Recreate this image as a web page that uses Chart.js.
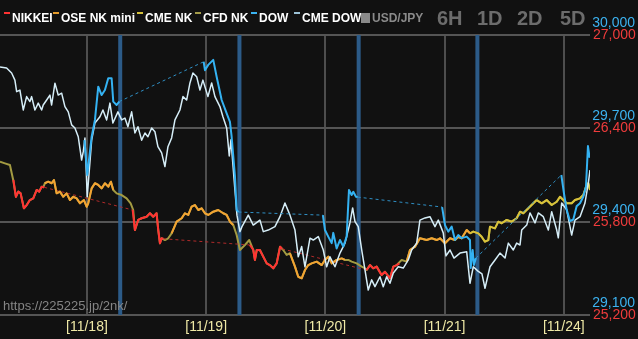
<!DOCTYPE html>
<html><head><meta charset="utf-8">
<script src="https://cdn.jsdelivr.net/npm/chart.js@4.4.1/dist/chart.umd.min.js"></script>
<style>html,body{margin:0;padding:0;background:#111;overflow:hidden}canvas{display:block}</style>
</head><body>
<canvas id="c" width="638" height="339"></canvas>
<script>
// time axis: hours since 11/18 00:00 (trading-day axis, weekend removed)
const timeMin = -17.5;
const timeMax = 101.27;
const dayTicks = [0, 24, 48, 72, 96];
const dayLabels = ['[11/18]', '[11/19]', '[11/20]', '[11/21]', '[11/24]'];
const nyCloseMarks = [6.7, 30.7, 54.7, 78.6];

const dowMin = 29100, dowMax = 30000, dowStep = 300;
const nkMin = 25200, nkMax = 27000, nkStep = 600;

const legendNames = ['NIKKEI', 'OSE NK mini', 'CME NK', 'CFD NK', 'DOW', 'CME DOW'];
const legendColors = ['#ff3333', '#e39a2c', '#d4c03a', '#a49c4a', '#3ab2f0', '#9cc2d6'];
const usdJpyLabel = 'USD/JPY';
const rangeButtons = ['6H', '1D', '2D', '5D'];
const watermark = 'https://225225.jp/2nk/';

// [hour, value]; null = gap
const nikkei = [
  [-14.8,26068],[-14.3,25960],[-13.8,25993],[-13.35,25982],[-12.7,25886],[-12.1,25907],[-11.5,25939],[-10.8,25950],[-10.1,26004],[-9.6,25993],[-9.1,26025],[-8.6,26021],
  null,
  [9.2,25875],[9.66,25746],[10.3,25811],[11.0,25822],[12.0,25832],[12.7,25854],[13.35,25832],[14.0,25854],[14.36,25746],[14.7,25661],[15.04,25693],[15.4,25690],
  null,
  [32.8,25650],[33.5,25618],[33.8,25554],[34.2,25618],[34.8,25618],[35.5,25575],[36.2,25532],[36.8,25521],[37.5,25500],[38.2,25532],[38.9,25639],[39.3,25625],
  null,
  [56.3,25489],[57.0,25521],[57.6,25500],[58.3,25511],[59.3,25457],[60.0,25478],[61.0,25436],[61.7,25511],[62.35,25521],[62.9,25532]
];

const oseMini = [
  [-8.5,26047],[-7.8,26057],[-7.1,26047],[-6.64,26068],[-6.1,25982],[-5.44,25993],[-4.77,25960],[-4.09,25982],[-3.42,25939],[-2.76,25960],[-2.07,25950],[-1.41,25918],[-0.6,25939],[-0.06,25896],[0.26,25918],[0.95,26014],[1.61,26047],[2.28,26036],[2.96,26014],[3.62,26047],[4.29,26025],[4.83,26057],[5.3,26004],
  null,
  [17.05,25725],[18.06,25800],[19.07,25822],[19.73,25854],[20.4,25843],[21.08,25896],[21.74,25907],[22.41,25875],[23.09,25886],[23.76,25854],[24.42,25843],[25.43,25864],[26.43,25875],[27.44,25854],[28.13,25843],[28.79,25800],[29.46,25779],
  null,
  [40.87,25597],[41.88,25511],[42.54,25446],[43.23,25436],[43.89,25489],[44.56,25521],[45.24,25532],[46.25,25543],[47.26,25521],[47.92,25554],[48.58,25575],[49.27,25532],[50.27,25554],[51.28,25564],[51.94,25554],
  null,
  [64.37,25543],[65.03,25618],[66.04,25639],[67.04,25693],[68.39,25682],[69.4,25693],[70.41,25682],[71.07,25693],[72.08,25661],[73.09,25693],[74.09,25682],[74.75,25703],[75.44,25693],[76.45,25746],[77.11,25725]
];

const cmeNk = [
  [77.11,25725],[77.77,25736],[78.78,25725],[79.46,25703],[80.13,25671],[80.8,25682],[81.14,25768],[82.14,25757],[82.81,25800],[83.49,25790],[84.5,25811],[85.5,25800],[86.51,25822],[87.18,25864],[87.84,25854],[88.85,25886],[89.86,25918],[90.54,25939],[91.55,25918],[92.55,25939],[93.56,25907],[94.57,25928],[95.23,25960],[95.9,25939],[96.58,25918],[97.58,25918],[98.25,25939],[99.26,25950],[99.92,25971],[100.6,26036],[100.93,26047],[101.27,26004]
];

const cfdNk = [
  [-17.5,26185],[-16.51,26175],[-15.5,26164],[-14.84,26068],[-14.29,25960],[-13.83,25993],[-13.35,25982],[-12.68,25886],[-12.14,25907],[-11.48,25939],[-10.81,25950],[-10.12,26004],[-9.6,25993],[-9.12,26025],[-8.8,26021],
  [-8.46,26047],[-7.79,26057],[-7.11,26047],[-6.64,26068],[-6.1,25982],[-5.44,25993],[-4.77,25960],[-4.09,25982],[-3.42,25939],[-2.76,25960],[-2.07,25950],[-1.41,25918],[-0.6,25939],[-0.06,25896],[0.26,25918],[0.95,26014],[1.61,26047],[2.28,26036],[2.96,26014],[3.62,26047],[4.29,26025],[4.83,26057],[5.3,26004],
  [5.98,25982],[6.99,25971],[7.99,25950],[8.8,25918],[9.32,25875],[9.66,25746],[10.33,25811],[11.01,25822],[12.02,25832],[12.68,25854],[13.35,25832],[14.03,25854],[14.36,25746],[14.7,25661],[15.04,25693],[15.7,25682],[16.37,25693],[17.05,25725],
  [18.06,25800],[19.07,25822],[19.73,25854],[20.4,25843],[21.08,25896],[21.74,25907],[22.41,25875],[23.09,25886],[23.76,25854],[24.42,25843],[25.43,25864],[26.43,25875],[27.44,25854],[28.13,25843],[28.79,25800],[29.46,25779],[30.14,25714],[30.8,25618],[31.81,25650],[32.68,25682],
  [33.48,25618],[33.83,25554],[34.17,25618],[34.83,25618],[35.5,25575],[36.18,25532],[36.84,25521],[37.51,25500],[38.19,25532],[38.86,25639],[39.52,25618],[40.21,25586],[40.87,25597],[41.88,25511],[42.54,25446],[43.23,25436],[43.89,25489],[44.56,25521],[45.24,25532],[46.25,25543],[47.26,25521],[47.92,25554],[48.58,25575],[49.27,25532],[50.27,25554],[51.28,25564],[51.94,25554],[52.61,25554],[53.29,25543],[54.3,25532],[55.31,25511],[55.97,25500],
  [56.31,25489],[56.98,25521],[57.64,25500],[58.33,25511],[59.33,25457],[60.0,25478],[61.0,25436],[61.67,25511],[62.35,25521],[62.67,25532],[63.36,25554],[64.37,25543],[65.03,25618],[66.04,25639],[67.04,25693],[68.39,25682],[69.4,25693],[70.41,25682],[71.07,25693],[72.08,25661],[73.09,25693],[74.09,25682],[74.75,25703],[75.44,25693],[76.45,25746],[77.11,25725],
  [77.77,25736],[78.78,25725],[79.46,25703],[80.13,25671],[80.8,25682],[81.14,25768],[82.14,25757],[82.81,25800],[83.49,25790],[84.5,25811],[85.5,25800],[86.51,25822],[87.18,25864],[87.84,25854],[88.85,25886],[89.86,25918],[90.54,25939],[91.55,25918],[92.55,25939],[93.56,25907],[94.57,25928],[95.23,25960],[95.9,25939],[96.58,25918],[97.58,25918],[98.25,25939],[99.26,25950],[99.92,25971],[100.6,26036],[100.93,26047],[101.27,26004]
];

const dow = [
  [-0.5,29662],[0.06,29550],[0.95,29673],[1.61,29727],[2.28,29834],[2.96,29807],[3.62,29823],[4.29,29861],[4.97,29861],[5.3,29786],[5.98,29775],[6.5,29786],
  null,
  [23.5,29914],[23.76,29887],[24.42,29904],[25.43,29920],[26.11,29866],[27.12,29791],[28.13,29748],[28.79,29721],[29.13,29673],[29.8,29545],[30.14,29438],[30.5,29431],
  null,
  [47.5,29421],[47.92,29373],[48.58,29352],[49.27,29331],[49.59,29364],[50.27,29314],[50.94,29341],[51.6,29320],[52.28,29352],[52.75,29502],[53.29,29486],[53.62,29496],[54.16,29480],[54.5,29479],
  null,
  [71.5,29447],[72.08,29389],[72.74,29368],[73.43,29384],[74.09,29341],[74.75,29357],[75.44,29347],[76.45,29352],[77.11,29341],[77.25,29251],[77.65,29309],[77.91,29261],[78.3,29283],
  null,
  [95.5,29550],[96.03,29491],[96.58,29438],[97.24,29402],[97.91,29407],[98.59,29450],[99.26,29459],[99.92,29480],[100.46,29513],[100.86,29643],[101.2,29605]
];

const cmeDow = [
  [-17.5,29897],[-16.17,29894],[-15.16,29878],[-14.5,29855],[-14.15,29818],[-13.49,29823],[-12.82,29759],[-12.14,29802],[-11.48,29786],[-11.13,29802],[-10.47,29759],[-9.8,29781],[-9.12,29759],[-8.8,29775],[-8.11,29791],[-7.45,29807],[-7.11,29775],[-6.44,29845],[-5.78,29807],[-5.09,29813],[-4.43,29770],[-3.76,29753],[-3.08,29711],[-2.42,29701],[-1.75,29673],[-1.07,29598],[-0.74,29625],[-0.4,29669],
  [0.06,29480],[0.95,29662],[1.61,29717],[2.62,29737],[3.22,29759],[3.97,29727],[4.63,29781],[5.23,29717],[6.24,29753],[6.99,29727],[7.65,29733],[8.25,29705],[9.0,29753],[9.66,29685],[10.27,29705],[11.01,29662],[11.68,29685],[12.28,29673],[13.03,29701],[13.69,29689],[14.29,29641],[15.04,29621],[15.7,29577],[16.31,29641],[17.05,29669],[17.72,29727],[18.72,29759],[19.33,29802],[20.07,29791],[20.74,29846],[21.34,29878],[22.09,29866],[22.75,29823],[23.35,29855],
  [24.36,29802],[25.11,29846],[25.77,29802],[26.77,29770],[27.38,29737],[28.13,29701],[28.65,29611],[28.99,29663],[29.79,29502],[30.2,29421],[30.8,29368],[31.21,29384],[32.48,29421],[33.48,29389],[34.83,29405],[35.5,29368],[36.5,29373],[37.85,29384],[38.86,29416],[39.86,29460],[40.87,29421],[41.88,29373],[42.54,29287],[43.23,29320],[43.89,29255],[44.9,29347],[45.56,29341],[46.57,29352],[47.58,29309],
  [48.26,29255],[48.92,29287],[49.93,29255],[50.94,29299],[51.95,29331],[52.95,29396],[53.49,29444],[53.96,29400],[54.62,29384],[55.31,29309],[55.97,29245],[56.63,29180],[57.32,29213],[57.98,29191],[58.99,29223],[59.65,29191],[60.34,29223],[61.0,29202],[61.67,29235],[62.67,29255],[63.68,29251],[64.69,29277],[65.37,29309],[66.38,29331],[67.04,29405],[68.05,29412],[69.05,29416],[70.06,29384],[70.73,29405],[71.73,29364],
  [72.28,29290],[73.09,29309],[73.89,29283],[75.1,29299],[76.45,29303],[77.11,29202],[77.77,29255],[78.72,29241],[79.52,29232],[80.13,29186],[81.14,29255],[82.15,29277],[83.15,29299],[84.16,29283],[84.83,29331],[85.83,29309],[86.51,29331],[87.18,29325],[87.52,29373],[88.53,29389],[89.19,29428],[90.2,29396],[90.86,29428],[91.87,29416],[92.88,29373],[93.56,29432],[94.57,29373],[94.89,29348],[95.57,29460],[96.58,29438],[97.58,29357],[98.25,29405],[99.26,29416],[100.26,29460],[100.93,29524],[101.27,29566]
];

function toPoints(arr) {
  const pts = [];
  let lastX = timeMin;
  arr.forEach(p => {
    if (p === null) { pts.push({ x: lastX + 0.001, y: null }); }
    else { pts.push({ x: p[0], y: p[1] }); lastX = p[0]; }
  });
  return pts;
}
const gapStyle = (val) => (ctx) => (ctx.p0.skip || ctx.p1.skip) ? val : undefined;

const FONT = '"Liberation Sans", Arial, sans-serif';
Chart.defaults.font.family = FONT;

const bgPlugin = {
  id: 'bg',
  beforeDraw(chart) {
    const c = chart.ctx; c.save(); c.fillStyle = '#111111'; c.fillRect(0, 0, chart.width, chart.height); c.restore();
  },
  beforeDatasetsDraw(chart) {
    const c = chart.ctx, xs = chart.scales.x, a = chart.chartArea;
    c.save(); c.fillStyle = '#2c5b88';
    nyCloseMarks.forEach(t => { const px = xs.getPixelForValue(t); c.fillRect(px - 2, a.top, 4, a.bottom - a.top); });
    c.restore();
  },
  afterDraw(chart) {
    const c = chart.ctx; c.save();
    c.textBaseline = 'alphabetic';
    c.font = 'bold 12px ' + FONT;
    const lx = [12, 61, 145, 203, 259, 302];
    legendNames.forEach((n, i) => {
      c.fillStyle = '#ffffff'; c.fillText(n, lx[i], 22);
      c.fillStyle = legendColors[i]; c.fillRect(lx[i] - 8, 12, 6, 2);
    });
    c.fillStyle = '#8a8a8a'; c.fillRect(361, 13, 9, 10);
    c.fillText(usdJpyLabel, 372, 22);
    c.font = 'bold 20px ' + FONT; c.fillStyle = '#6c6c6c';
    const bx = [437, 477, 517, 560];
    rangeButtons.forEach((b, i) => c.fillText(b, bx[i], 25));
    c.font = '13px ' + FONT; c.fillStyle = '#858585';
    c.fillText(watermark, 3, 310);
    c.restore();
  }
};

const lineBase = { pointRadius: 0, pointHoverRadius: 0, tension: 0, borderJoinStyle: 'round', fill: false, xAxisID: 'x' };

new Chart(document.getElementById('c'), {
  type: 'line',
  data: {
    datasets: [
      Object.assign({}, lineBase, { label: legendNames[0], data: toPoints(nikkei), borderColor: '#ff3333', borderWidth: 2, yAxisID: 'yNk', order: 4, spanGaps: true,
        segment: { borderDash: gapStyle([3, 3]), borderWidth: gapStyle(1), borderColor: gapStyle('#b02a2a') } }),
      Object.assign({}, lineBase, { label: legendNames[1], data: toPoints(oseMini), borderColor: '#f2a332', borderWidth: 2, yAxisID: 'yNk', order: 3, spanGaps: false }),
      Object.assign({}, lineBase, { label: legendNames[2], data: toPoints(cmeNk), borderColor: '#d8c23a', borderWidth: 2, yAxisID: 'yNk', order: 5 }),
      Object.assign({}, lineBase, { label: legendNames[3], data: toPoints(cfdNk), borderColor: '#a39b42', borderWidth: 2, yAxisID: 'yNk', order: 6 }),
      Object.assign({}, lineBase, { label: legendNames[4], data: toPoints(dow), borderColor: '#34b2f2', borderWidth: 2, yAxisID: 'yDow', order: 1, spanGaps: true,
        segment: { borderDash: gapStyle([3, 3]), borderWidth: gapStyle(1), borderColor: gapStyle('#2f8fc4') } }),
      Object.assign({}, lineBase, { label: legendNames[5], data: toPoints(cmeDow), borderColor: '#d6eef8', borderWidth: 1.5, yAxisID: 'yDow', order: 2 })
    ]
  },
  options: {
    responsive: false,
    animation: false,
    devicePixelRatio: 1,
    events: [],
    layout: { padding: { top: 35, left: 0, right: 0, bottom: 0 } },
    plugins: { legend: { display: false }, tooltip: { enabled: false }, title: { display: false } },
    scales: {
      x: {
        type: 'linear', position: 'bottom', min: timeMin, max: timeMax,
        afterBuildTicks: (s) => { s.ticks = dayTicks.map(v => ({ value: v })); },
        afterFit: (s) => { s.height = 24; s.paddingLeft = 0; s.paddingRight = 0; },
        ticks: { callback: (v, i) => dayLabels[i], color: '#efe9a6', font: { size: 14 }, padding: 4, maxRotation: 0, autoSkip: false },
        grid: { color: '#4e4e4e', lineWidth: 2, drawTicks: false },
        border: { display: false }
      },
      yDow: {
        type: 'linear', position: 'right', weight: 0, min: dowMin, max: dowMax,
        afterFit: (s) => { s.width = 0; s.paddingTop = 0; s.paddingBottom = 0; },
        ticks: { stepSize: dowStep, color: '#3cb2f0', font: { size: 14 }, mirror: true, padding: 45, labelOffset: -12,
          callback: (v) => v.toLocaleString('en-US') },
        grid: { color: '#555555', lineWidth: 2, drawTicks: false },
        border: { display: false }
      },
      yNk: {
        type: 'linear', position: 'right', weight: 1, min: nkMin, max: nkMax,
        afterFit: (s) => { s.width = 48; s.paddingTop = 0; s.paddingBottom = 0; },
        ticks: { stepSize: nkStep, color: '#f03c3c', font: { size: 14 }, padding: 3, labelOffset: 0,
          callback: (v) => v.toLocaleString('en-US') },
        grid: { display: false, drawTicks: false },
        border: { display: false }
      }
    }
  },
  plugins: [bgPlugin]
});
</script>
</body></html>
